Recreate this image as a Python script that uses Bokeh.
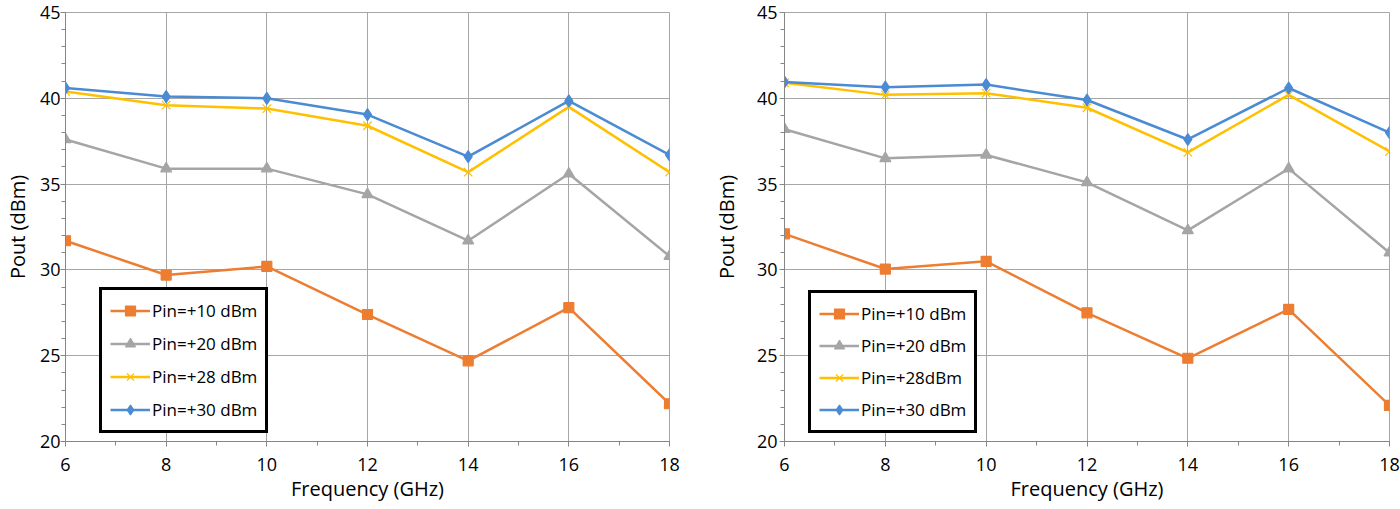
from bokeh.plotting import figure
from bokeh.layouts import row
from bokeh.models import Legend, LegendItem, SingleIntervalTicker, Range1d
from bokeh.embed import file_html
from bokeh.resources import INLINE

freq = [6, 8, 10, 12, 14, 16, 18]

# left chart
left_p10 = [31.7, 29.7, 30.2, 27.4, 24.7, 27.8, 22.2]
left_p20 = [37.6, 35.9, 35.9, 34.4, 31.7, 35.6, 30.8]
left_p28 = [40.4, 39.6, 39.4, 38.4, 35.7, 39.5, 35.7]
left_p30 = [40.6, 40.1, 40.0, 39.05, 36.6, 39.85, 36.7]
left_labels = ["Pin=+10 dBm", "Pin=+20 dBm", "Pin=+28 dBm", "Pin=+30 dBm"]

# right chart
right_p10 = [32.1, 30.05, 30.5, 27.5, 24.85, 27.7, 22.1]
right_p20 = [38.2, 36.5, 36.7, 35.1, 32.3, 35.9, 31.0]
right_p28 = [40.9, 40.2, 40.3, 39.45, 36.85, 40.2, 36.9]
right_p30 = [40.95, 40.65, 40.8, 39.9, 37.6, 40.6, 38.0]
right_labels = ["Pin=+10 dBm", "Pin=+20 dBm", "Pin=+28dBm", "Pin=+30 dBm"]

COLORS = ["#ED7D31", "#A5A5A5", "#FFC000", "#4A8BD4"]
MARKERS = ["square", "triangle", "x", "diamond"]
SIZES = [10, 11, 12, 12]
FONT = "Open Sans"
GRID = "#A6A6A6"


def make_chart(series, labels, border_left, border_right, tick_standoff,
               label_standoff, legend_loc, legend_spacing):
    p = figure(width=700, height=509, output_backend="svg", toolbar_location=None,
               x_range=Range1d(6, 18), y_range=Range1d(20, 45),
               min_border_left=border_left, min_border_right=border_right,
               min_border_top=12, min_border_bottom=68)
    p.outline_line_color = GRID
    p.background_fill_color = "white"
    p.border_fill_color = "white"

    p.xaxis.ticker = SingleIntervalTicker(interval=2, num_minor_ticks=2)
    p.yaxis.ticker = SingleIntervalTicker(interval=5, num_minor_ticks=5)
    for ax in (p.xaxis, p.yaxis):
        ax.axis_line_color = "#868686"
        ax.major_tick_line_color = "#868686"
        ax.minor_tick_line_color = "#868686"
        ax.major_tick_in = 0
        ax.major_tick_out = 5
        ax.minor_tick_in = 0
        ax.minor_tick_out = 4
        ax.major_label_text_font = FONT
        ax.major_label_text_font_size = "18px"
        ax.major_label_text_color = "#000000"
        ax.axis_label_text_font = FONT
        ax.axis_label_text_font_size = "20px"
        ax.axis_label_text_font_style = "normal"
        ax.axis_label_text_color = "#000000"
    p.xaxis.axis_label = "Frequency (GHz)"
    p.yaxis.axis_label = "Pout (dBm)"
    p.xaxis.major_label_standoff = 11
    p.xaxis.axis_label_standoff = 1
    p.yaxis.major_label_standoff = tick_standoff
    p.yaxis.axis_label_standoff = label_standoff

    p.grid.grid_line_color = GRID
    p.grid.grid_line_width = 1

    items = []
    for vals, lab, col, mk, sz in zip(series, labels, COLORS, MARKERS, SIZES):
        ln = p.line(freq, vals, line_color=col, line_width=2.5)
        sc = p.scatter(freq, vals, marker=mk, size=sz, fill_color=col,
                       line_color=col, line_width=1.2)
        items.append(LegendItem(label=lab, renderers=[ln, sc]))

    legend = Legend(items=items, location=legend_loc,
                    border_line_color="black", border_line_width=3,
                    border_line_alpha=1.0,
                    label_text_font=FONT, label_text_font_size="17px",
                    label_text_color="#000000",
                    glyph_width=40, glyph_height=25, label_standoff=2,
                    spacing=legend_spacing, padding=8, margin=0,
                    background_fill_alpha=1.0)
    p.add_layout(legend, "center")
    return p


p1 = make_chart([left_p10, left_p20, left_p28, left_p30], left_labels,
                65, 31, 0, 6, (34, 8), 8)
p2 = make_chart([right_p10, right_p20, right_p28, right_p30], right_labels,
                84, 11, 2, 14, (24, 8), 7)

layout = row(p1, p2)
open("out.html", "w").write(file_html(layout, INLINE))
